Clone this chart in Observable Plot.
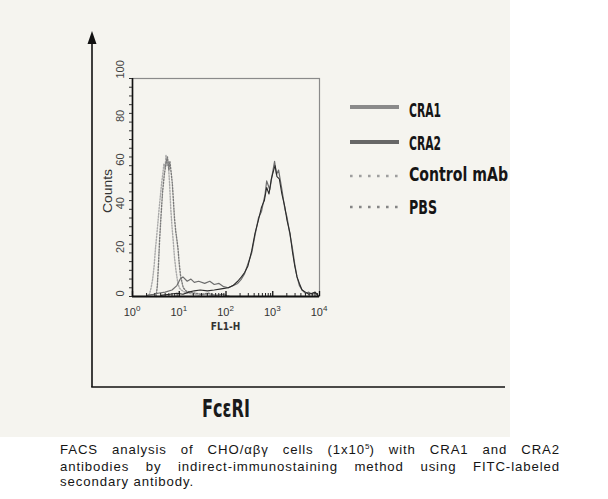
<!DOCTYPE html>
<html><head><meta charset="utf-8">
<script src="https://cdn.jsdelivr.net/npm/d3@7"></script>
<script src="https://cdn.jsdelivr.net/npm/@observablehq/plot@0.6"></script>
<style>
body{margin:0;background:#fff;width:608px;height:499px;position:relative;overflow:hidden;font-family:"Liberation Sans",Arial,sans-serif;}
#chart{position:absolute;left:0;top:0;}
#caption{position:absolute;left:60px;top:443px;width:500px;font-size:13.2px;line-height:14.8px;letter-spacing:0.9px;color:#151515;}
#caption div{white-space:nowrap;}
#caption .j{text-align:justify;text-align-last:justify;}
#caption .sup{font-size:8px;position:relative;top:-5px;letter-spacing:0;}
</style></head><body>
<div id="chart"></div>
<div id="caption">
<div class="j">FACS analysis of CHO/αβγ cells (1x10<span class="sup">5</span>) with CRA1 and CRA2</div>
<div class="j">antibodies by indirect-immunostaining method using FITC-labeled</div>
<div>secondary antibody.</div>
</div>
<script>
// ---- data: [FL1-H, counts] ----
const cra1 = [[2,0.5],[2.8,1],[3.5,1.5],[5,2],[7,3],[8.9,5],[10.5,8],[12,9],[14.8,7],[17.8,8],[21,6.5],[26,7],[35,6],[45,7],[56,5.5],[71,6],[89,4.5],[112,4],[141,5],[178,6],[214,8],[250,10.5],[295,15],[355,20],[417,28],[494,36],[575,39],[686,47],[741,53],[865,49],[977,56],[1094,62],[1202,56],[1334,58],[1570,49],[1820,40],[2014,36.5],[2344,28],[2618,22.6],[2951,15],[3304,9],[3715,5],[4236,3],[5012,1.5],[5902,2],[6918,1],[8072,1.5],[9333,0.5]];
const cra2 = [[4,0.5],[6.3,1],[8.9,1.5],[12,1],[16,2],[21,2.6],[28,3],[40,2.6],[56,3],[79,3.5],[112,4],[141,5],[178,7],[214,9],[250,11],[295,14],[355,21],[417,29],[494,35],[575,41],[661,44],[741,50],[832,47],[933,54],[1047,58],[1122,60],[1230,55],[1380,54],[1570,47],[1820,41],[2014,35],[2344,29],[2618,21],[2951,14],[3304,9],[3715,6],[4236,3],[5012,2],[5902,1],[6918,1.5],[8072,2],[9333,0.5]];
const controlMab = [[2.0,0],[2.3,1],[2.5,4],[2.7,8],[2.9,14],[3.1,22],[3.3,28],[3.5,34],[3.7,40],[3.9,45],[4.2,52],[4.5,57],[4.7,61],[5.0,59],[5.2,65],[5.5,60],[5.8,62],[6.2,52],[6.6,40],[7.0,32],[7.4,26],[7.9,18],[8.5,12],[9.2,7],[10,4],[11,3],[13,2],[16,1.5],[20,1],[27,0.5],[36,1],[50,0.5],[70,0]];
const pbs = [[3.2,0],[3.4,5],[3.6,15],[3.8,26],[4.1,38],[4.4,48],[4.8,56],[5.2,61],[5.6,64],[6.0,58],[6.3,62],[6.7,57],[7.1,52],[7.5,44],[7.9,36],[8.4,30],[8.9,26],[9.4,22],[10,15],[10.6,10],[11.3,7],[12.2,4],[14,2.5],[17,2],[22,1.5],[30,1],[42,1.5],[60,0.5],[85,1],[120,0]];
const majorX = [1,10,100,1000,10000];
const majorExp = ["0","1","2","3","4"];
const minorX = [2,3,4,5,6,7,8,9,20,30,40,50,60,70,80,90,200,300,400,500,600,700,800,900,2000,3000,4000,5000,6000,7000,8000,9000];
const yLabels = [0,20,40,60,80,100];
const yTicks = [0,4,8,12,16,20,24,28,32,36,40,44,48,52,56,60,64,68,72,76,80,84,88,92,96,100];
const legendNames = ["CRA1","CRA2","Control mAb","PBS"];

const W = 608, H = 440;
const chart = Plot.plot({
  width: W, height: H,
  marginLeft: 132, marginRight: 289, marginTop: 78, marginBottom: 144,
  x: {type: "log", domain: [1, 10000]},
  y: {domain: [0, 100]},
  style: {background: "transparent", fontFamily: "Liberation Sans, Arial, sans-serif", color: "#333", overflow: "visible"},
  marks: [
    Plot.frame({stroke: "#8a8a8a", strokeWidth: 1.2}),
    Plot.line(controlMab, {x: d => d[0], y: d => d[1], stroke: "#a9a9a9", strokeWidth: 1.4, strokeDasharray: "1.3,1.6"}),
    Plot.line(pbs, {x: d => d[0], y: d => d[1], stroke: "#7a7a7a", strokeWidth: 1.4, strokeDasharray: "1.3,1.6"}),
    Plot.line(cra1, {x: d => d[0], y: d => d[1], stroke: "#6e6e6e", strokeWidth: 1.2}),
    Plot.line(cra2, {x: d => d[0], y: d => d[1], stroke: "#2a2a2a", strokeWidth: 1.1}),
    Plot.ruleX([1], {stroke: "#111", strokeWidth: 1.6}),
    Plot.ruleY([0], {stroke: "#111", strokeWidth: 2}),
    Plot.axisX({ticks: majorX, tickSize: -5, tickFormat: () => "", label: null, stroke: "#111", strokeWidth: 1.3}),
    Plot.axisX({ticks: minorX, tickSize: -3, tickFormat: () => "", label: null, stroke: "#222"}),
    Plot.axisY({ticks: yTicks, tickSize: 3, tickFormat: () => "", label: null, stroke: "#333"}),
    Plot.text(yLabels, {y: d => d, frameAnchor: "left", dx: -12, rotate: -90, text: d => String(d), fontSize: 11, fill: "#444"})
  ]
});
document.getElementById("chart").appendChild(chart);

const svg = d3.select(chart);
const xs = chart.scale("x");
// cream scan background
svg.insert("rect", ":first-child").attr("x", 0).attr("y", 0).attr("width", 510).attr("height", 437).attr("fill", "#f5f4ef");

// x tick labels 10^n
majorX.forEach((v, i) => {
  const t = svg.append("text").attr("x", xs.apply(v)).attr("y", 316).attr("text-anchor", "middle")
    .attr("font-size", 11).attr("fill", "#333").attr("font-family", "Liberation Sans, Arial, sans-serif");
  t.append("tspan").text("10");
  t.append("tspan").attr("dy", -5).attr("font-size", 8).text(majorExp[i]);
});
svg.append("text").attr("x", xs.apply(100)).attr("y", 330).attr("text-anchor", "middle")
  .attr("font-size", 10).attr("font-weight", "bold").attr("fill", "#333")
  .attr("font-family", "DejaVu Sans Condensed, Liberation Sans Narrow, sans-serif").text("FL1-H");
// Counts label
svg.append("text").attr("transform", "translate(112,191) rotate(-90)").attr("text-anchor", "middle")
  .attr("font-size", 12.5).attr("fill", "#333").attr("textLength", 44).attr("lengthAdjust", "spacingAndGlyphs")
  .attr("font-family", "Liberation Sans, Arial, sans-serif").text("Counts");

// outer arrow axes
svg.append("line").attr("x1", 92).attr("x2", 92).attr("y1", 40).attr("y2", 387).attr("stroke", "#111").attr("stroke-width", 1.6);
svg.append("line").attr("x1", 91.2).attr("x2", 505).attr("y1", 387).attr("y2", 387).attr("stroke", "#111").attr("stroke-width", 1.6);
svg.append("path").attr("d", "M92,31 L87.5,44 L96.5,44 Z").attr("fill", "#111");

// FcεRI label
svg.append("text").attr("x", 226).attr("y", 417).attr("text-anchor", "middle")
  .attr("font-size", 25).attr("font-weight", "bold").attr("fill", "#1a1a1a")
  .attr("textLength", 48).attr("lengthAdjust", "spacingAndGlyphs")
  .attr("font-family", "DejaVu Sans Condensed, Liberation Sans Narrow, sans-serif").text("FcεRI");

// legend
const legY = [107, 142, 176, 207];
const legTextY = [117, 150, 181, 214];
const legLen = [32, 32, 99, 28];
const legStroke = ["#8a8a8a", "#676767", "#9e9e9e", "#858585"];
legendNames.forEach((n, i) => {
  const l = svg.append("line").attr("x1", 350).attr("x2", 399).attr("y1", legY[i]).attr("y2", legY[i]).attr("stroke", legStroke[i]);
  if (i < 2) l.attr("stroke-width", 4);
  else l.attr("stroke-width", 2.6).attr("stroke-dasharray", "2.6,6.4");
  svg.append("text").attr("x", 409).attr("y", legTextY[i]).attr("text-anchor", "start").attr("font-size", 20).attr("font-weight", "bold")
    .attr("fill", "#151515").attr("textLength", legLen[i]).attr("lengthAdjust", "spacingAndGlyphs")
    .attr("font-family", "DejaVu Sans Condensed, Liberation Sans Narrow, sans-serif").text(n);
});
</script>
</body></html>
